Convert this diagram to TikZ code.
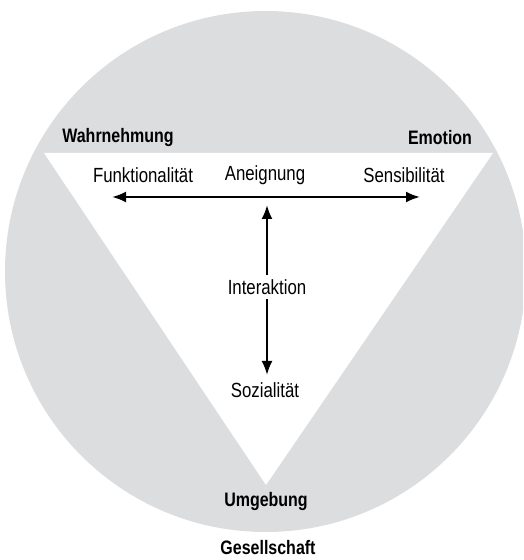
\documentclass[tikz,border=0pt]{standalone}
\usepackage{fontspec}
\setmainfont{Liberation Sans}[FakeStretch=0.82]
\usetikzlibrary{arrows.meta}
\definecolor{circgray}{HTML}{DCDDDF}
\tikzset{
  lbl/.style={font=\fontsize{20.5}{23}\selectfont, inner sep=1pt},
  bold/.style={font=\fontsize{19.5}{22}\selectfont\bfseries, inner sep=1pt},
  arr/.style={line width=2.3pt, {Latex[length=14pt,width=11pt]}-{Latex[length=14pt,width=11pt]}}
}
\begin{document}
\begin{tikzpicture}[x=1pt,y=1pt]
\useasboundingbox (0,0) rectangle (523,560);
\begin{scope}
\clip (0,0) rectangle (523,560);
\fill[circgray] (265.5,288.5) circle (260.5);
\end{scope}
\fill[white] (44,407) -- (493,407) -- (266,75) -- cycle;
\node[bold] (wahr) at (118,422) {Wahrnehmung};
\node[bold] (emo) at (440,422) {Emotion};
\node[bold] (umg) at (266,58) {Umgebung};
\node[bold] (ges) at (268,12) {Gesellschaft};
\node[lbl] (funk) at (143,385) {Funktionalität};
\node[lbl] (aneig) at (265,385) {Aneignung};
\node[lbl] (sens) at (404,385) {Sensibilität};
\node[lbl] (soz) at (265,170) {Sozialität};
\coordinate (hl) at (112,363);
\coordinate (hr) at (420,363);
\coordinate (vt) at (267,355);
\coordinate (vb) at (267,185);
\draw[arr] (hl) -- (hr);
\draw[arr] (vt) -- (vb);
\node[lbl, fill=white, inner ysep=4pt] (inter) at (267,273) {Interaktion};
\end{tikzpicture}
\end{document}
